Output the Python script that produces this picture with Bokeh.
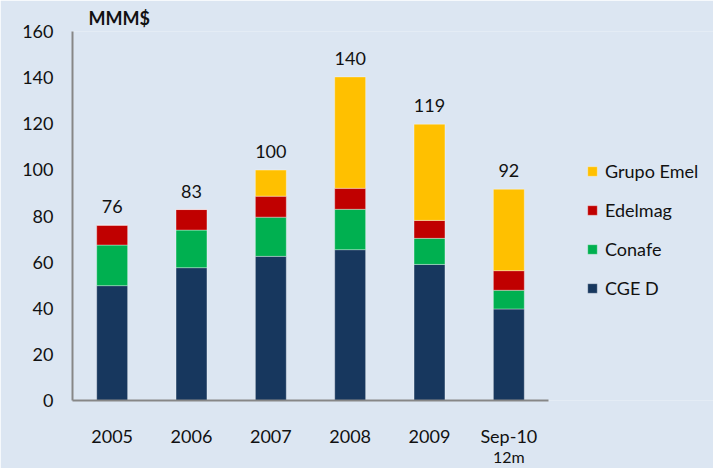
from bokeh.plotting import figure
from bokeh.models import (Range1d, Legend, LegendItem, FixedTicker,
                          ColumnDataSource, LinearAxis)
from bokeh.core.properties import value
from bokeh.embed import file_html
from bokeh.resources import INLINE

# ---- data ----
categories = ["2005", "2006", "2007", "2008", "2009", "Sep-10"]
cge_d = [49.8, 57.6, 62.5, 65.4, 59.0, 39.7]
conafe = [17.6, 16.3, 17.0, 17.5, 11.3, 8.1]
edelmag = [8.6, 8.9, 9.1, 9.1, 7.8, 8.5]
grupo_emel = [0.0, 0.0, 11.3, 48.3, 41.7, 35.3]
total_labels = ["76", "83", "100", "140", "119", "92"]
series_names = ["CGE D", "Conafe", "Edelmag", "Grupo Emel"]
series_colors = ["#17375E", "#00B050", "#C00000", "#FFC000"]
y_ticks = [0, 20, 40, 60, 80, 100, 120, 140, 160]
unit_label = "MMM$"
sub_label_category = "Sep-10"
sub_label = "12m"

BG = "#DCE6F2"
FONT = "Lato"
TXT = "#111111"
AXIS = "#878787"

n = len(categories)
xpos = [i + 0.5 for i in range(n)]          # category slot centres on the x scale
src = ColumnDataSource(dict(x=xpos, cat=categories, **{
    series_names[0]: cge_d,
    series_names[1]: conafe,
    series_names[2]: edelmag,
    series_names[3]: grupo_emel,
}))
totals = [a + b + c + d for a, b, c, d in zip(cge_d, conafe, edelmag, grupo_emel)]

# frame spans the full width so the legend (right of the bars) is not clipped;
# the category axis itself is bounded to the 6 slots
p = figure(x_range=Range1d(0, n * 641 / 476), y_range=Range1d(0, 160),
           width=713, height=468, output_backend="svg", toolbar_location=None,
           min_border_left=72, min_border_right=0, min_border_top=31, min_border_bottom=67,
           background_fill_color=BG, border_fill_color=BG, outline_line_color=None,
           title=unit_label, x_axis_type=None)

p.title.align = "left"
p.title.offset = 16
p.title.standoff = 5
p.title.text_font = FONT
p.title.text_font_size = "18px"
p.title.text_font_style = "bold"
p.title.text_color = TXT

renderers = p.vbar_stack(series_names, x="x", width=0.39, source=src,
                         fill_color=series_colors, line_color="white", line_alpha=0.35, line_width=1)

p.text(x=xpos, y=totals, text=total_labels, text_align="center", text_baseline="bottom",
       y_offset=-12, text_font=value(FONT), text_font_size="18px", text_color=TXT)

p.xgrid.visible = False
p.ygrid.visible = False

xaxis = LinearAxis(ticker=FixedTicker(ticks=xpos),
                   major_label_overrides={x: c for x, c in zip(xpos, categories)},
                   bounds=(0, n))
p.add_layout(xaxis, "below")

for ax in (xaxis, p.yaxis[0]):
    ax.axis_line_color = AXIS
    ax.axis_line_width = 2
    ax.major_tick_line_color = None
    ax.minor_tick_line_color = None
    ax.major_label_text_font = FONT
    ax.major_label_text_font_size = "18px"
    ax.major_label_text_color = TXT
xaxis.major_label_standoff = 18
p.yaxis[0].major_label_standoff = 13
p.yaxis[0].ticker = FixedTicker(ticks=y_ticks)

sub_x = xpos[categories.index(sub_label_category)]
sub_axis = LinearAxis(ticker=FixedTicker(ticks=[sub_x]),
                      major_label_overrides={sub_x: sub_label},
                      axis_line_color=None, major_tick_line_color=None, minor_tick_line_color=None,
                      major_label_standoff=-9, major_label_text_font=FONT,
                      major_label_text_font_size="16px", major_label_text_color=TXT)
p.add_layout(sub_axis, "below")

items = [LegendItem(label=nm, renderers=[r]) for nm, r in reversed(list(zip(series_names, renderers)))]
legend = Legend(items=items, location=(514, 101), orientation="vertical",
                glyph_width=12, glyph_height=12, label_height=22, spacing=17, label_standoff=7,
                padding=0, margin=0, border_line_color=None, background_fill_alpha=0,
                label_text_font=FONT, label_text_font_size="18px", label_text_color=TXT)
p.add_layout(legend)

open("out.html", "w").write(file_html(p, INLINE))
